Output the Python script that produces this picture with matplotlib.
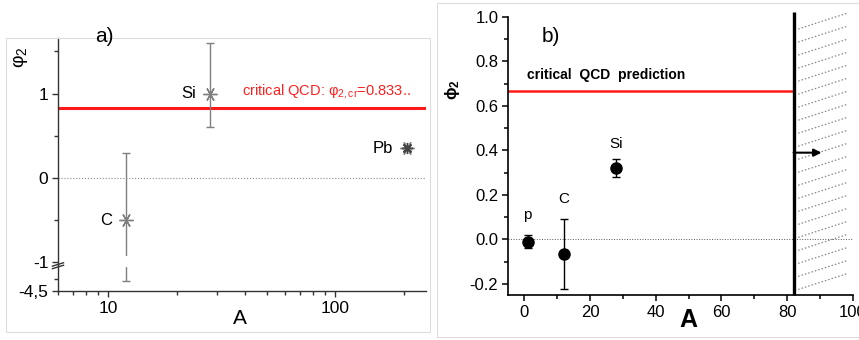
import numpy as np
import matplotlib
matplotlib.use("Agg")
import matplotlib.pyplot as plt
from matplotlib.ticker import MultipleLocator, NullFormatter, FixedLocator

plt.rcParams['font.family'] = ['Liberation Sans', 'DejaVu Sans']
plt.rcParams['mathtext.fontset'] = 'custom'
plt.rcParams['mathtext.rm'] = 'Liberation Sans'
plt.rcParams['mathtext.it'] = 'Liberation Sans:italic'
plt.rcParams['mathtext.bf'] = 'Liberation Sans:bold'

# panel a) data (log A axis, broken phi axis below -1)
A_a = [12, 28, 207]
phi_a = [-0.5, 1.0, 0.35]
lo_a = [-3.3, 0.6, 0.33]
hi_a = [0.3, 1.6, 0.37]
names_a = ['C', 'Si', 'Pb']
phi_cr_a = 0.833

# panel b) data
A_b = [1, 12, 28]
phi_b = [-0.01, -0.065, 0.32]
err_b = [0.03, 0.158, 0.04]
names_b = ['p', 'C', 'Si']
phi_cr_b = 0.667
A_limit = 82


def fold(v):
    # compress the region below the axis break (-4.5 .. -1)
    v = np.asarray(v, dtype=float)
    return np.where(v >= -1, v, -1 + (v + 1) * (0.34 / 3.5))


W, H = 859, 340
fig = plt.figure(figsize=(W / 100, H / 100), dpi=100)

# light frames around the two panels
fig.add_artist(plt.Rectangle((6 / W, 1 - 332 / H), 424 / W, 294 / H,
                             fill=False, ec='#dddddd', lw=0.8))
fig.add_artist(plt.Rectangle((437 / W, 1 - 337 / H), 430 / W, 334 / H,
                             fill=False, ec='#dddddd', lw=0.8))

# ---------------- panel a ----------------
ax1 = fig.add_axes([58 / W, 1 - 291 / H, 368 / W, 253 / H])
ax1.set_xscale('log')
ax1.set_xlim(6, 251)
ax1.set_ylim(fold(-4.5), 1.66)
for s in ['top', 'right']:
    ax1.spines[s].set_visible(False)
for s in ['left', 'bottom']:
    ax1.spines[s].set_color('#333333')
    ax1.spines[s].set_linewidth(1.0)

gray = '#7f7f7f'
y_a = fold(phi_a)
yerr_a = [y_a - fold(lo_a), fold(hi_a) - y_a]
ax1.errorbar(A_a, y_a, yerr=yerr_a, fmt='none', ecolor=gray, elinewidth=1,
             capsize=3, capthick=1, zorder=3)
ax1.plot(A_a, y_a, ls='none', marker=(6, 2, 90), ms=10, mec=gray, mew=1, zorder=4)
ax1.plot(A_a[2], y_a[2], ls='none', marker=(8, 2, 0), ms=8, mec='#444444', mew=1, zorder=4)
# gap in the C error bar at the axis break
ax1.plot([A_a[0], A_a[0]], [-0.95, -1.03], color='white', lw=3, zorder=5)

for a, y, n in zip(A_a, y_a, names_a):
    ax1.annotate(n, (a, y), xytext=(-10, 0), textcoords='offset points',
                 ha='right', va='center', fontsize=12)

ax1.axhline(phi_cr_a, color='#ff1a1a', lw=2.2, zorder=2)
ax1.text(0.5, phi_cr_a + 0.08, r'critical QCD: $\mathrm{φ}_{\mathrm{2,cr}}$=0.833..',
         transform=ax1.get_yaxis_transform(), color='#ff2020', fontsize=10.5,
         ha='left', va='bottom')
ax1.axhline(0, color='#888888', lw=0.8, ls=':', zorder=1)

ax1.set_xticks([10, 100])
ax1.set_xticklabels(['10', '100'])
ax1.xaxis.set_minor_formatter(NullFormatter())
ax1.set_yticks([float(fold(-4.5)), -1, 0, 1])
ax1.set_yticklabels(['-4,5', '-1', '0', '1'])
ax1.yaxis.set_minor_locator(FixedLocator([float(fold(-3)), -0.5, 0.5, 1.5]))
ax1.tick_params(which='both', direction='out', colors='#333333', labelcolor='black',
                labelsize=12.5)
ax1.tick_params(which='major', length=4, width=1, pad=3)
ax1.tick_params(which='minor', length=3, width=1)

# axis break marks
for dy in (-0.015, 0.015):
    ax1.plot([-0.015, 0.015], [-1.04 + dy - 0.02, -1.04 + dy + 0.02],
             transform=ax1.get_yaxis_transform(), color='#333333', lw=1,
             clip_on=False)

fig.text(95 / W, 1 - 36 / H, 'a)', fontsize=15, ha='left', va='center')
fig.text(21 / W, 1 - 57 / H, r'φ$_2$', fontsize=14, rotation=90, ha='center', va='center')
fig.text(240 / W, 1 - 318 / H, 'A', fontsize=15, ha='center', va='center')

# ---------------- panel b ----------------
ax2 = fig.add_axes([508 / W, 1 - 295 / H, 344.7 / W, 278 / H])
ax2.set_xlim(-5, 100)
ax2.set_ylim(-0.25, 1.0)
for s in ['top', 'right']:
    ax2.spines[s].set_visible(False)
for s in ['left', 'bottom']:
    ax2.spines[s].set_linewidth(1.2)

ax2.errorbar(A_b, phi_b, yerr=err_b, fmt='o', color='black', ms=8,
             elinewidth=1, capsize=3, capthick=1, zorder=4)
ax2.annotate(names_b[0], (A_b[0], phi_b[0] + err_b[0]), xytext=(0, 9),
             textcoords='offset points', ha='center', va='bottom', fontsize=11)
ax2.annotate(names_b[1], (A_b[1], phi_b[1] + err_b[1]), xytext=(0, 9),
             textcoords='offset points', ha='center', va='bottom', fontsize=11)
ax2.annotate(names_b[2], (A_b[2], phi_b[2] + err_b[2]), xytext=(0, 6),
             textcoords='offset points', ha='center', va='bottom', fontsize=11)

ax2.plot([-5, A_limit], [phi_cr_b, phi_cr_b], color='#ff1a1a', lw=1.8, zorder=2)
ax2.text(0.8, phi_cr_b + 0.04, 'critical  QCD  prediction', fontsize=10,
         fontweight='bold', ha='left', va='bottom')
ax2.axhline(0, color='#555555', lw=0.7, ls=':', zorder=1)

# excluded region: thick limit line, hatch and arrow
ax2.plot([A_limit, A_limit], [-0.25, 1.024], color='black', lw=2.4,
         clip_on=False, solid_capstyle='butt', zorder=5)
for y0 in np.linspace(-0.225, 0.946, 21):
    ax2.plot([83.4, 98.5], [y0, y0 + 0.072], color='#888888', lw=0.9,
             ls=(0, (1.2, 1.6)), clip_on=False, zorder=1)
ax2.annotate('', xy=(90.5, 0.39), xytext=(A_limit, 0.39),
             arrowprops=dict(arrowstyle='-|>', color='black', lw=1.5,
                             mutation_scale=11, shrinkA=0, shrinkB=0))

ax2.xaxis.set_major_locator(MultipleLocator(20))
ax2.xaxis.set_minor_locator(MultipleLocator(10))
ax2.yaxis.set_major_locator(MultipleLocator(0.2))
ax2.yaxis.set_minor_locator(MultipleLocator(0.1))
ax2.yaxis.set_major_formatter(plt.FuncFormatter(lambda v, p: f'{v:.1f}'))
ax2.tick_params(which='both', direction='out', labelsize=12, width=1.1)
ax2.tick_params(which='major', length=4.5, pad=2.5)
ax2.tick_params(which='minor', length=3)

fig.text(542 / W, 1 - 36 / H, 'b)', fontsize=15, ha='left', va='center')
fig.text(452 / W, 1 - 90 / H, r'$\mathbf{\phi}_\mathbf{2}$', fontsize=12,
         rotation=90, ha='center', va='center')
fig.text(688 / W, 1 - 320 / H, 'A', fontsize=18, fontweight='bold',
         ha='center', va='center')

fig.savefig('out.png', dpi=100)
